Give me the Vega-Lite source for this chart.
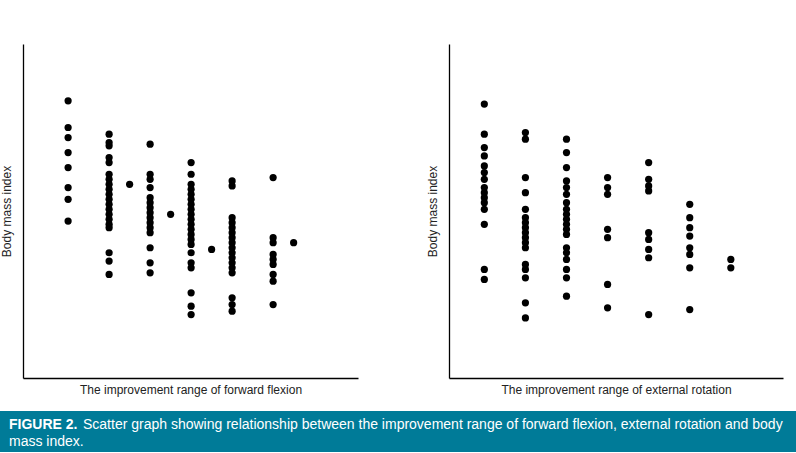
{
  "$schema": "https://vega.github.io/schema/vega-lite/v6.json",
  "padding": {"top": 44, "left": 0, "right": 0, "bottom": 0},
  "background": "white",
  "config": {"view": {"stroke": null}, "font": "Liberation Sans"},
  "datasets": {
    "ff": [
      {"x": 1, "bmi": 31.6}, {"x": 1, "bmi": 30.0}, {"x": 1, "bmi": 29.4}, {"x": 1, "bmi": 28.5}, {"x": 1, "bmi": 27.6}, {"x": 1, "bmi": 26.4}, {"x": 1, "bmi": 25.7}, {"x": 1, "bmi": 24.4},
      {"x": 2, "bmi": 29.6}, {"x": 2, "bmi": 29.1}, {"x": 2, "bmi": 28.9}, {"x": 2, "bmi": 28.2}, {"x": 2, "bmi": 27.9}, {"x": 2, "bmi": 27.2}, {"x": 2, "bmi": 26.9}, {"x": 2, "bmi": 26.6}, {"x": 2, "bmi": 26.3}, {"x": 2, "bmi": 26.0}, {"x": 2, "bmi": 25.7}, {"x": 2, "bmi": 25.4}, {"x": 2, "bmi": 25.1}, {"x": 2, "bmi": 24.8}, {"x": 2, "bmi": 24.5}, {"x": 2, "bmi": 24.2}, {"x": 2, "bmi": 24.0}, {"x": 2, "bmi": 22.5}, {"x": 2, "bmi": 22.0}, {"x": 2, "bmi": 21.2},
      {"x": 2.5, "bmi": 26.6},
      {"x": 3, "bmi": 29.0}, {"x": 3, "bmi": 27.2}, {"x": 3, "bmi": 26.9}, {"x": 3, "bmi": 26.4}, {"x": 3, "bmi": 25.8}, {"x": 3, "bmi": 25.5}, {"x": 3, "bmi": 25.2}, {"x": 3, "bmi": 24.9}, {"x": 3, "bmi": 24.6}, {"x": 3, "bmi": 24.3}, {"x": 3, "bmi": 24.0}, {"x": 3, "bmi": 23.7}, {"x": 3, "bmi": 22.8}, {"x": 3, "bmi": 21.9}, {"x": 3, "bmi": 21.3},
      {"x": 3.5, "bmi": 24.8},
      {"x": 4, "bmi": 27.9}, {"x": 4, "bmi": 27.2}, {"x": 4, "bmi": 26.6}, {"x": 4, "bmi": 26.3}, {"x": 4, "bmi": 26.0}, {"x": 4, "bmi": 25.7}, {"x": 4, "bmi": 25.4}, {"x": 4, "bmi": 25.1}, {"x": 4, "bmi": 24.8}, {"x": 4, "bmi": 24.5}, {"x": 4, "bmi": 24.2}, {"x": 4, "bmi": 23.9}, {"x": 4, "bmi": 23.6}, {"x": 4, "bmi": 23.3}, {"x": 4, "bmi": 23.0}, {"x": 4, "bmi": 22.5}, {"x": 4, "bmi": 21.9}, {"x": 4, "bmi": 21.6}, {"x": 4, "bmi": 20.1}, {"x": 4, "bmi": 19.3}, {"x": 4, "bmi": 18.8},
      {"x": 4.5, "bmi": 22.7},
      {"x": 5, "bmi": 26.8}, {"x": 5, "bmi": 26.5}, {"x": 5, "bmi": 24.6}, {"x": 5, "bmi": 24.3}, {"x": 5, "bmi": 24.0}, {"x": 5, "bmi": 23.7}, {"x": 5, "bmi": 23.4}, {"x": 5, "bmi": 23.1}, {"x": 5, "bmi": 22.8}, {"x": 5, "bmi": 22.5}, {"x": 5, "bmi": 22.2}, {"x": 5, "bmi": 21.9}, {"x": 5, "bmi": 21.6}, {"x": 5, "bmi": 21.3}, {"x": 5, "bmi": 19.8}, {"x": 5, "bmi": 19.4}, {"x": 5, "bmi": 19.0},
      {"x": 6, "bmi": 27.0}, {"x": 6, "bmi": 23.4}, {"x": 6, "bmi": 23.1}, {"x": 6, "bmi": 22.4}, {"x": 6, "bmi": 22.1}, {"x": 6, "bmi": 21.8}, {"x": 6, "bmi": 21.2}, {"x": 6, "bmi": 20.8}, {"x": 6, "bmi": 19.4},
      {"x": 6.5, "bmi": 23.1}
    ],
    "er": [
      {"x": 1, "bmi": 31.4}, {"x": 1, "bmi": 29.6}, {"x": 1, "bmi": 28.8}, {"x": 1, "bmi": 28.3}, {"x": 1, "bmi": 27.7}, {"x": 1, "bmi": 27.3}, {"x": 1, "bmi": 26.9}, {"x": 1, "bmi": 26.4}, {"x": 1, "bmi": 26.1}, {"x": 1, "bmi": 25.8}, {"x": 1, "bmi": 25.5}, {"x": 1, "bmi": 25.1}, {"x": 1, "bmi": 24.2}, {"x": 1, "bmi": 21.5}, {"x": 1, "bmi": 20.9},
      {"x": 2, "bmi": 29.7}, {"x": 2, "bmi": 29.3}, {"x": 2, "bmi": 27.0}, {"x": 2, "bmi": 26.1}, {"x": 2, "bmi": 25.1}, {"x": 2, "bmi": 24.6}, {"x": 2, "bmi": 24.3}, {"x": 2, "bmi": 24.0}, {"x": 2, "bmi": 23.7}, {"x": 2, "bmi": 23.4}, {"x": 2, "bmi": 23.1}, {"x": 2, "bmi": 22.8}, {"x": 2, "bmi": 21.8}, {"x": 2, "bmi": 21.5}, {"x": 2, "bmi": 21.0}, {"x": 2, "bmi": 19.5}, {"x": 2, "bmi": 18.6},
      {"x": 3, "bmi": 29.3}, {"x": 3, "bmi": 28.5}, {"x": 3, "bmi": 27.6}, {"x": 3, "bmi": 26.8}, {"x": 3, "bmi": 26.4}, {"x": 3, "bmi": 26.0}, {"x": 3, "bmi": 25.5}, {"x": 3, "bmi": 25.1}, {"x": 3, "bmi": 24.8}, {"x": 3, "bmi": 24.5}, {"x": 3, "bmi": 24.2}, {"x": 3, "bmi": 23.9}, {"x": 3, "bmi": 23.6}, {"x": 3, "bmi": 22.8}, {"x": 3, "bmi": 22.5}, {"x": 3, "bmi": 22.1}, {"x": 3, "bmi": 21.5}, {"x": 3, "bmi": 21.0}, {"x": 3, "bmi": 19.9},
      {"x": 4, "bmi": 27.0}, {"x": 4, "bmi": 26.4}, {"x": 4, "bmi": 26.0}, {"x": 4, "bmi": 23.9}, {"x": 4, "bmi": 23.4}, {"x": 4, "bmi": 20.6}, {"x": 4, "bmi": 19.2},
      {"x": 5, "bmi": 27.9}, {"x": 5, "bmi": 26.9}, {"x": 5, "bmi": 26.5}, {"x": 5, "bmi": 26.2}, {"x": 5, "bmi": 23.7}, {"x": 5, "bmi": 23.3}, {"x": 5, "bmi": 22.7}, {"x": 5, "bmi": 22.2}, {"x": 5, "bmi": 18.8},
      {"x": 6, "bmi": 25.4}, {"x": 6, "bmi": 24.6}, {"x": 6, "bmi": 24.0}, {"x": 6, "bmi": 23.5}, {"x": 6, "bmi": 22.8}, {"x": 6, "bmi": 22.4}, {"x": 6, "bmi": 21.6}, {"x": 6, "bmi": 19.1},
      {"x": 7, "bmi": 22.1}, {"x": 7, "bmi": 21.6}
    ],
    "caption": [
      {"row": 1, "part": "label", "text": "FIGURE 2."},
      {"row": 1, "part": "body", "text": "Scatter graph showing relationship between the improvement range of forward flexion, external rotation and body"},
      {"row": 2, "part": "cont", "text": "mass index."}
    ]
  },
  "vconcat": [
    {
      "hconcat": [
        {
          "width": 358,
          "height": 334,
          "data": {"name": "ff"},
          "mark": {"type": "circle", "size": 52, "color": "black", "opacity": 1},
          "encoding": {
            "x": {"field": "x", "type": "quantitative", "scale": {"domain": [-0.1, 8.07], "range": [23, 358], "nice": false, "zero": false},
              "axis": {"title": "The improvement range of forward flexion", "labels": false, "ticks": false, "grid": false, "domainColor": "black", "domainWidth": 1.3, "titleFontSize": 12, "titleFontWeight": "normal", "titleColor": "#222", "titlePadding": 6}},
            "y": {"field": "bmi", "type": "quantitative", "scale": {"domain": [15, 35], "nice": false, "zero": false},
              "axis": {"title": "Body mass index", "labels": false, "ticks": false, "grid": false, "offset": -23, "domainColor": "black", "domainWidth": 1.3, "titleFontSize": 12, "titleFontWeight": "normal", "titleColor": "#222", "titlePadding": 10}}
          }
        },
        {
          "width": 334,
          "height": 334,
          "data": {"name": "er"},
          "mark": {"type": "circle", "size": 52, "color": "black", "opacity": 1},
          "encoding": {
            "x": {"field": "x", "type": "quantitative", "scale": {"domain": [0.14, 8.27], "nice": false, "zero": false},
              "axis": {"title": "The improvement range of external rotation", "labels": false, "ticks": false, "grid": false, "domainColor": "black", "domainWidth": 1.3, "titleFontSize": 12, "titleFontWeight": "normal", "titleColor": "#222", "titlePadding": 6}},
            "y": {"field": "bmi", "type": "quantitative", "scale": {"domain": [15, 35], "nice": false, "zero": false},
              "axis": {"title": "Body mass index", "labels": false, "ticks": false, "grid": false, "domainColor": "black", "domainWidth": 1.3, "titleFontSize": 12, "titleFontWeight": "normal", "titleColor": "#222", "titlePadding": 10}}
          }
        }
      ],
      "spacing": 68
    },
    {
      "width": 796,
      "height": 41,
      "view": {"fill": "#007b98", "stroke": null},
      "data": {"name": "caption"},
      "encoding": {
        "x": {"datum": 0, "type": "quantitative", "scale": {"domain": [0, 1]}, "axis": null},
        "y": {"field": "row", "type": "ordinal", "scale": {"type": "point", "padding": 0.7}, "axis": null},
        "text": {"field": "text"}
      },
      "layer": [
        {"transform": [{"filter": "datum.part == 'label'"}], "mark": {"type": "text", "align": "left", "baseline": "middle", "dx": 9, "dy": 2, "fontSize": 14, "fontWeight": "bold", "color": "white"}},
        {"transform": [{"filter": "datum.part == 'body'"}], "mark": {"type": "text", "align": "left", "baseline": "middle", "dx": 83, "dy": 2, "fontSize": 14, "color": "white"}},
        {"transform": [{"filter": "datum.part == 'cont'"}], "mark": {"type": "text", "align": "left", "baseline": "middle", "dx": 9, "dy": 2, "fontSize": 14, "color": "white"}}
      ]
    }
  ],
  "spacing": 16
}
